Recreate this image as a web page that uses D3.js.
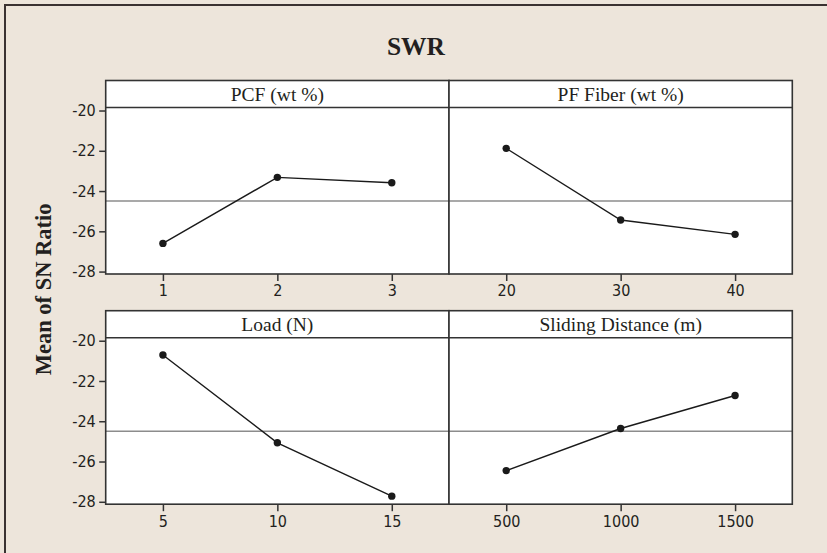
<!DOCTYPE html>
<html>
<head>
<meta charset="utf-8">
<script src="https://cdn.jsdelivr.net/npm/d3@7/dist/d3.min.js"></script>
<style>
  html, body { margin: 0; padding: 0; background: #ede5db; }
  svg { display: block; }
</style>
</head>
<body>
<svg id="chart" width="827" height="553"></svg>
<script>
// Main effects plot for SN ratios (response: SWR)
const chartTitle = "SWR";
const yTitle = "Mean of SN Ratio";
const factorNames = ["PCF (wt %)", "PF Fiber (wt %)", "Load (N)", "Sliding Distance (m)"];
const levelsPCF = ["1", "2", "3"];
const levelsPF = ["20", "30", "40"];
const levelsLoad = ["5", "10", "15"];
const levelsDistance = ["500", "1000", "1500"];
const snPCF = [-26.60, -23.32, -23.59];
const snPF = [-21.88, -25.44, -26.15];
const snLoad = [-20.71, -25.07, -27.72];
const snDistance = [-26.45, -24.36, -22.72];
const grandMean = -24.50;
const yTicks = [-20, -22, -24, -26, -28];

const factors = [
  { name: factorNames[0], levels: levelsPCF, values: snPCF },
  { name: factorNames[1], levels: levelsPF, values: snPF },
  { name: factorNames[2], levels: levelsLoad, values: snLoad },
  { name: factorNames[3], levels: levelsDistance, values: snDistance }
];

const svg = d3.select("#chart");
const W = 827, H = 553;

svg.append("rect").attr("width", W).attr("height", H).attr("fill", "#ede5db");
// outer frame (top and left edges visible)
svg.append("path")
  .attr("d", `M5,${H} L5,5 L${W},5`)
  .attr("fill", "none").attr("stroke", "#3a3232").attr("stroke-width", 2);

svg.append("text")
  .attr("x", 416).attr("y", 55)
  .attr("text-anchor", "middle")
  .attr("font-family", "'Liberation Serif', 'Times New Roman', serif")
  .attr("font-weight", "bold").attr("font-size", 25.5)
  .attr("fill", "#231f20")
  .text(chartTitle);

const gridLeft = 105.7, gridRight = 792.3;
const colW = (gridRight - gridLeft) / 2;
const rowTops = [80.5, 310.7];
const stripH = 27;
const plotH = 166.5;

const y0 = d3.scaleLinear().domain([-28.12, -19.85]);

svg.append("text")
  .attr("transform", `translate(51,${(rowTops[0] + rowTops[1] + stripH + plotH) / 2 - 3}) rotate(-90)`)
  .attr("text-anchor", "middle")
  .attr("font-family", "'Liberation Serif', 'Times New Roman', serif")
  .attr("font-weight", "bold").attr("font-size", 22.5)
  .attr("fill", "#231f20")
  .text(yTitle);

const tickFont = "'DejaVu Sans Condensed', 'DejaVu Sans', sans-serif";

factors.forEach((f, i) => {
  const col = i % 2, row = Math.floor(i / 2);
  const x0 = gridLeft + col * colW;
  const top = rowTops[row];
  const plotTop = top + stripH;
  const g = svg.append("g");

  const x = d3.scalePoint().domain(f.levels).range([x0, x0 + colW]).padding(0.5);
  const y = y0.copy().range([plotTop + plotH, plotTop]);

  // panel background
  g.append("rect").attr("x", x0).attr("y", top).attr("width", colW).attr("height", stripH + plotH)
    .attr("fill", "#ffffff");

  // grand mean reference line
  g.append("line")
    .attr("x1", x0).attr("x2", x0 + colW)
    .attr("y1", y(grandMean)).attr("y2", y(grandMean))
    .attr("stroke", "#8c8c8c").attr("stroke-width", 1.5);

  // strip label
  g.append("text")
    .attr("x", x0 + colW / 2).attr("y", top + stripH / 2 + 6.5)
    .attr("text-anchor", "middle")
    .attr("font-family", "'Liberation Serif', 'Times New Roman', serif")
    .attr("font-size", 19.5).attr("fill", "#231f20")
    .text(f.name);

  // x axis
  const xa = g.append("g").attr("transform", `translate(0,${plotTop + plotH})`)
    .call(d3.axisBottom(x).tickSize(7).tickSizeOuter(0).tickPadding(4));
  xa.select(".domain").remove();
  xa.selectAll("line").attr("stroke", "#333").attr("stroke-width", 1.5);
  xa.selectAll("text").attr("font-family", tickFont).attr("font-size", 16).attr("fill", "#231f20");

  // y axis on the left column only
  if (col === 0) {
    const ya = g.append("g").attr("transform", `translate(${x0},0)`)
      .call(d3.axisLeft(y).tickValues(yTicks).tickFormat(d => String(d))
        .tickSize(6.5).tickSizeOuter(0).tickPadding(3.5));
    ya.select(".domain").remove();
    ya.selectAll("line").attr("stroke", "#333").attr("stroke-width", 1.5);
    ya.selectAll("text").attr("font-family", tickFont).attr("font-size", 16).attr("fill", "#231f20");
  }

  // data line and points
  const pts = f.levels.map((l, k) => [x(l), y(f.values[k])]);
  g.append("path").attr("d", d3.line()(pts))
    .attr("fill", "none").attr("stroke", "#1a1a1a").attr("stroke-width", 1.4);
  g.selectAll("circle").data(pts).join("circle")
    .attr("cx", d => d[0]).attr("cy", d => d[1]).attr("r", 3.7)
    .attr("fill", "#1a1a1a");

  // strip separator and frame
  g.append("line")
    .attr("x1", x0).attr("x2", x0 + colW)
    .attr("y1", plotTop).attr("y2", plotTop)
    .attr("stroke", "#333").attr("stroke-width", 1.6);
  g.append("rect").attr("x", x0).attr("y", top).attr("width", colW).attr("height", stripH + plotH)
    .attr("fill", "none").attr("stroke", "#333").attr("stroke-width", 1.6);
});
</script>
</body>
</html>
